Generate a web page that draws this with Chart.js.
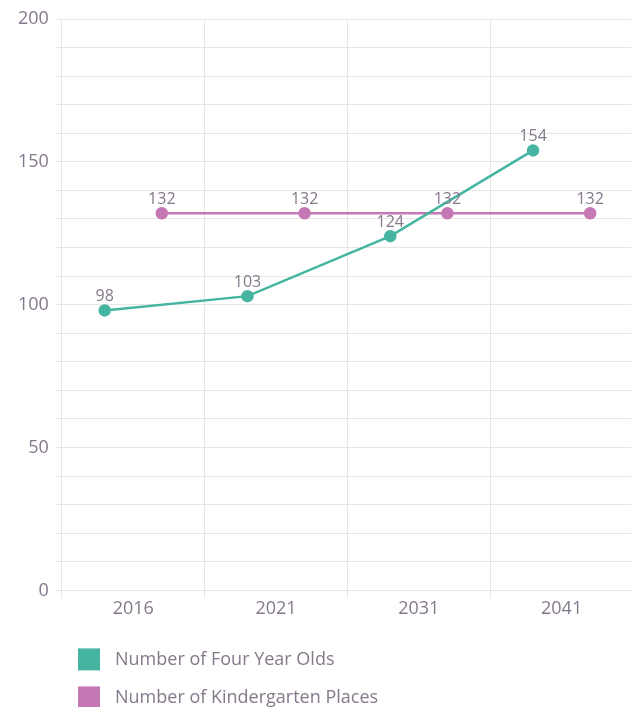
<!DOCTYPE html>
<html>
<head>
<meta charset="utf-8">
<script src="https://cdn.jsdelivr.net/npm/chart.js@4"></script>
<style>
  body { margin: 0; overflow: hidden; background: #fff; }
  #wrap { position: absolute; left: 0; top: 0; width: 633px; height: 720px; }
</style>
</head>
<body>
<div id="wrap"><canvas id="kinderChart"></canvas></div>
<script>
// values
const years = ['2016', '2021', '2031', '2041'];
const fourYearOlds = [98, 103, 124, 154];
const kinderPlaces = [132, 132, 132, 132];
const seriesNames = ['Number of Four Year Olds', 'Number of Kindergarten Places'];

const TEAL = '#45b5a2';
const PINK = '#c479b5';
const TEXT = '#85788a';
const GRID = '#e6e6e6';

Chart.defaults.font.family = "'Open Sans', sans-serif";

// each series sits at its own share of the year slot
function toPoints(values, shift) {
  return values.map((v, i) => ({ x: i + shift, y: v }));
}

// small labels above every point
const valueLabels = {
  id: 'valueLabels',
  afterDatasetsDraw(chart) {
    const ctx = chart.ctx;
    ctx.save();
    ctx.font = "16px 'Open Sans', sans-serif";
    ctx.fillStyle = TEXT;
    ctx.textAlign = 'center';
    ctx.textBaseline = 'alphabetic';
    chart.data.datasets.forEach((ds, i) => {
      chart.getDatasetMeta(i).data.forEach((pt, j) => {
        ctx.fillText(ds.data[j].y, pt.x, pt.y - 9);
      });
    });
    ctx.restore();
  }
};

// stacked legend under the chart, left side
const stackedLegend = {
  id: 'stackedLegend',
  afterDraw(chart) {
    const ctx = chart.ctx;
    const top = chart.chartArea.bottom + 58;
    ctx.save();
    ctx.font = "18px 'Open Sans', sans-serif";
    ctx.textBaseline = 'middle';
    chart.data.datasets.forEach((ds, i) => {
      const y = top + i * 38;
      ctx.fillStyle = ds.borderColor;
      ctx.fillRect(78, y, 22, 22);
      ctx.fillStyle = TEXT;
      ctx.fillText(ds.label, 115, y + 11);
    });
    ctx.restore();
  }
};

new Chart(document.getElementById('kinderChart'), {
  type: 'line',
  data: {
    datasets: [
      {
        label: seriesNames[0],
        data: toPoints(fourYearOlds, 0.3),
        borderColor: TEAL,
        backgroundColor: TEAL,
        borderWidth: 2.5,
        pointRadius: 5,
        pointHoverRadius: 5,
        tension: 0
      },
      {
        label: seriesNames[1],
        data: toPoints(kinderPlaces, 0.7),
        borderColor: PINK,
        backgroundColor: PINK,
        borderWidth: 2.5,
        pointRadius: 5,
        pointHoverRadius: 5,
        tension: 0
      }
    ]
  },
  options: {
    responsive: true,
    maintainAspectRatio: false,
    animation: false,
    layout: { autoPadding: false, padding: { top: 19, left: 11, right: 0, bottom: 100 } },
    plugins: {
      legend: { display: false },
      tooltip: { enabled: false }
    },
    scales: {
      x: {
        type: 'linear',
        min: 0,
        max: years.length,
        ticks: { stepSize: 1, display: false },
        grid: { color: GRID, tickLength: 8 },
        border: { color: GRID }
      },
      xLabels: {
        type: 'category',
        labels: years,
        offset: true,
        position: 'bottom',
        grid: { display: false, drawTicks: false },
        border: { display: false },
        ticks: { color: TEXT, font: { size: 18 }, padding: 0 }
      },
      y: {
        min: 0,
        max: 200,
        ticks: {
          stepSize: 10,
          autoSkip: false,
          color: TEXT,
          font: { size: 18 },
          padding: 7,
          callback: v => (v % 50 === 0 ? v : '')
        },
        grid: { color: GRID, tickLength: 6 },
        border: { color: GRID }
      }
    }
  },
  plugins: [valueLabels, stackedLegend]
});
</script>
</body>
</html>
